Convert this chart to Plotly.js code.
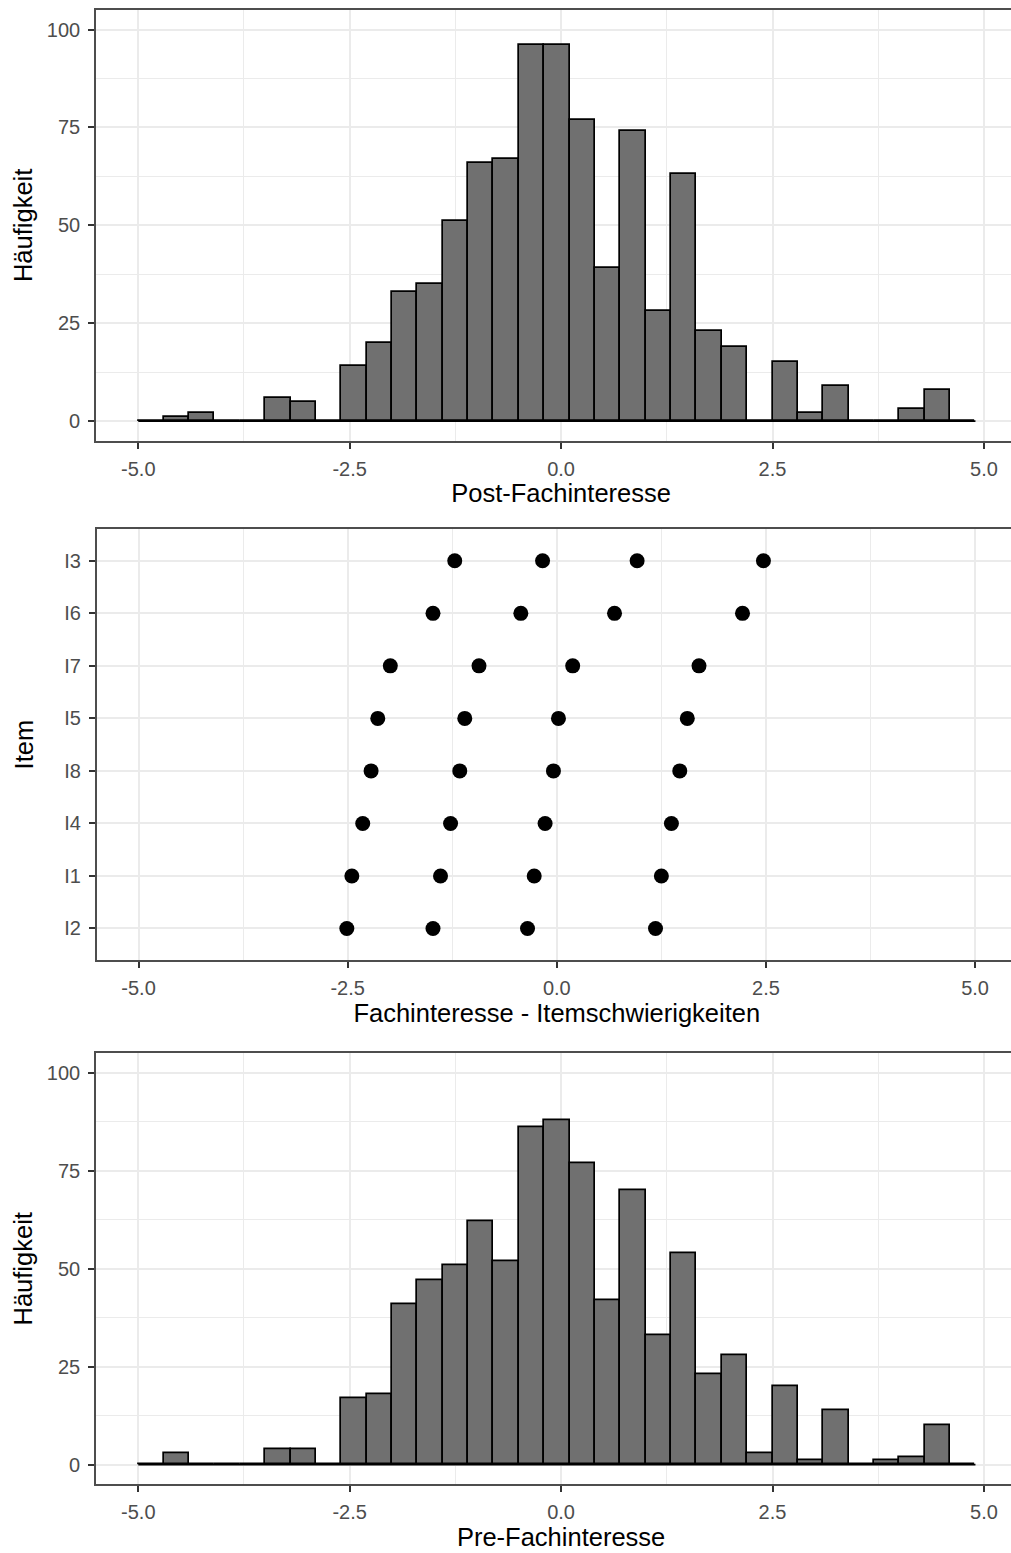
<!DOCTYPE html>
<html><head><meta charset="utf-8">
<script src="https://cdn.plot.ly/plotly-3.0.1.min.js"></script>
<style>html,body{margin:0;padding:0;overflow:hidden;background:#fff}#chart{width:1040px;height:1553px}</style>
</head><body><div id="chart"></div>
<script>
// ---- data ----
const binStart = -5.0;
const binWidth = 0.3;
const postCounts = [0,1,2,0,0,6,5,0,14,20,33,35,51,66,67,96,96,77,39,74,28,63,23,19,0,15,2,9,0,0,3,8,0];
const preCounts  = [0,3,0,0,0,4,4,0,17,18,41,47,51,62,52,86,88,77,42,70,33,54,23,28,3,20,1,14,0,1,2,10,0];

const items     = ["I3","I6","I7","I5","I8","I4","I1","I2"];
const itemOrder = ["I2","I1","I4","I8","I5","I7","I6","I3"];
const thr1 = [-1.22,-1.48,-1.99,-2.14,-2.22,-2.32,-2.45,-2.51];
const thr2 = [-0.17,-0.43,-0.93,-1.10,-1.16,-1.27,-1.39,-1.48];
const thr3 = [ 0.96, 0.69, 0.19, 0.02,-0.04,-0.14,-0.27,-0.35];
const thr4 = [ 2.47, 2.22, 1.70, 1.56, 1.47, 1.37, 1.25, 1.18];

const xTickVals = [-5,-2.5,0,2.5,5];
const xTickText = ["-5.0","-2.5","0.0","2.5","5.0"];
const yTickVals = [0,25,50,75,100];
const yTickText = ["0","25","50","75","100"];

const titlePost = "Post-Fachinteresse";
const titleItems = "Fachinteresse - Itemschwierigkeiten";
const titlePre = "Pre-Fachinteresse";
const titleCount = "Häufigkeit";
const titleItem = "Item";

// ---- derived ----
const centers = postCounts.map((_, i) => binStart + binWidth * (i + 0.5));
const binEnd = binStart + binWidth * postCounts.length;

const W = 1040, H = 1553;
const FONT = "Liberation Sans, Arial, sans-serif";
const tickFont = {family: FONT, size: 20, color: "#4D4D4D"};
const titleFont = {family: FONT, size: 25.5, color: "#000000"};
const grid = "#EBEBEB";
const border = "#4D4D4D";

function hbar(counts, xa, ya) {
  return {type: "bar", x: centers, y: counts, width: binWidth, xaxis: xa, yaxis: ya,
    marker: {color: "#707070", line: {color: "#000000", width: 1.7}}, hoverinfo: "x+y", showlegend: false};
}
function baseline(xa, ya) {
  return {type: "scatter", mode: "lines", x: [binStart, binEnd], y: [0, 0], xaxis: xa, yaxis: ya,
    line: {color: "#000000", width: 1.7}, hoverinfo: "skip", showlegend: false, cliponaxis: false};
}
function dots(vals) {
  return {type: "scatter", mode: "markers", x: vals, y: items, xaxis: "x2", yaxis: "y2",
    marker: {color: "#000000", size: 15, line: {width: 0}}, showlegend: false};
}

const traces = [
  baseline("x", "y"), hbar(postCounts, "x", "y"),
  dots(thr1), dots(thr2), dots(thr3), dots(thr4),
  baseline("x3", "y3"), hbar(preCounts, "x3", "y3")
];

function xAxis(domain, anchor, title) {
  return {domain: domain, anchor: anchor, range: [-5.5, 5.5], autorange: false,
    tickmode: "array", tickvals: xTickVals, ticktext: xTickText,
    ticks: "outside", ticklen: 6, tickwidth: 1.6, tickcolor: "#333333", tickfont: tickFont,
    ticklabelstandoff: 3,
    showgrid: true, gridcolor: grid, gridwidth: 1.7, zeroline: false,
    minor: {tickmode: "array", tickvals: [-3.75, -1.25, 1.25, 3.75], showgrid: true, gridcolor: grid, gridwidth: 1, ticks: ""},
    showline: true, linecolor: border, linewidth: 1.6, mirror: true,
    title: {text: title, font: titleFont, standoff: 6}, automargin: false, fixedrange: true};
}
function yAxisCount(domain, anchor) {
  return {domain: domain, anchor: anchor, range: [-5, 105], autorange: false,
    tickmode: "array", tickvals: yTickVals, ticktext: yTickText,
    ticks: "outside", ticklen: 6, tickwidth: 1.6, tickcolor: "#333333", tickfont: tickFont,
    ticklabelstandoff: 4,
    showgrid: true, gridcolor: grid, gridwidth: 1.7, zeroline: false,
    minor: {tickmode: "array", tickvals: [12.5, 37.5, 62.5, 87.5], showgrid: true, gridcolor: grid, gridwidth: 1, ticks: ""},
    showline: true, linecolor: border, linewidth: 1.6, mirror: true,
    title: {text: titleCount, font: titleFont, standoff: 7}, automargin: false, fixedrange: true};
}

const layout = {
  width: W, height: H,
  margin: {l: 0, r: 0, t: 0, b: 0},
  paper_bgcolor: "#FFFFFF", plot_bgcolor: "#FFFFFF",
  bargap: 0, showlegend: false,
  font: {family: FONT},
  xaxis:  xAxis([96 / W, 1026.2 / W], "y", titlePost),
  yaxis:  yAxisCount([1 - 440.7 / H, 1 - 10 / H], "x"),
  xaxis2: xAxis([96.7 / W, 1016.9 / W], "y2", titleItems),
  yaxis2: {domain: [1 - 960 / H, 1 - 529.3 / H], anchor: "x2", type: "category",
    categoryorder: "array", categoryarray: itemOrder, range: [-0.6, 7.6], autorange: false,
    ticks: "outside", ticklen: 6, tickwidth: 1.6, tickcolor: "#333333", tickfont: tickFont,
    ticklabelstandoff: 4,
    showgrid: true, gridcolor: grid, gridwidth: 1.7, zeroline: false,
    showline: true, linecolor: border, linewidth: 1.6, mirror: true,
    title: {text: titleItem, font: titleFont, standoff: 23}, automargin: false, fixedrange: true},
  xaxis3: xAxis([96 / W, 1026.2 / W], "y3", titlePre),
  yaxis3: yAxisCount([1 - 1484.3 / H, 1 - 1053.3 / H], "x3")
};

Plotly.newPlot("chart", traces, layout, {displayModeBar: false});
</script>
</body></html>
